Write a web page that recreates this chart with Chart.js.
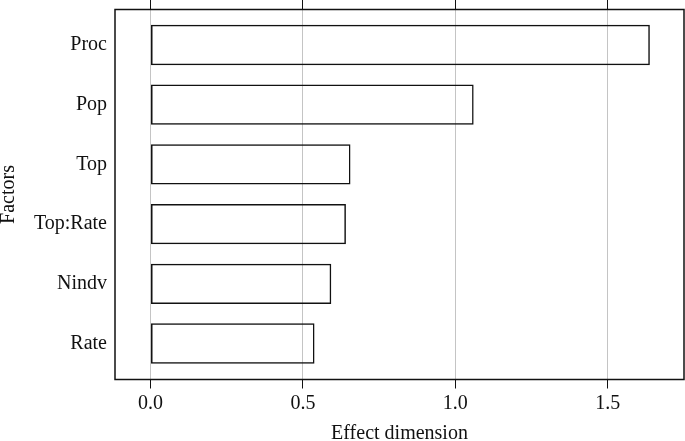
<!DOCTYPE html>
<html>
<head>
<meta charset="utf-8">
<script src="https://cdn.jsdelivr.net/npm/chart.js@4"></script>
<style>
  html, body { margin: 0; padding: 0; background: #ffffff; }
  #wrap { width: 685px; height: 441px; }
</style>
</head>
<body>
<div id="wrap"><canvas id="c" width="685" height="441"></canvas></div>
<script>
// ---- data ----
const factors = ['Proc', 'Pop', 'Top', 'Top:Rate', 'Nindv', 'Rate'];
const effects = [1.638, 1.060, 0.656, 0.641, 0.593, 0.538];
const xTickValues = [0, 0.5, 1.0, 1.5];
const xTickLabels = ['0.0', '0.5', '1.0', '1.5'];
const xTitle = 'Effect dimension';
const yTitle = 'Factors';

// ---- style ----
const INK = '#111111';
const GRID = '#c4c4c4';
Chart.defaults.font.family = "'Liberation Serif', 'Times New Roman', serif";
Chart.defaults.font.size = 20;
Chart.defaults.color = INK;

const X_MIN = -0.1165, X_MAX = 1.750;
const Y_MIN = -0.595, Y_MAX = 5.603;

const framePlugin = {
  id: 'frame',
  afterDraw(chart) {
    const a = chart.chartArea, ctx = chart.ctx;
    ctx.save();
    ctx.strokeStyle = INK;
    ctx.lineWidth = 1.5;
    ctx.strokeRect(a.left, a.top, a.right - a.left, a.bottom - a.top);
    ctx.restore();
  }
};

const setXTicks = s => { s.ticks = xTickValues.map(v => ({ value: v })); };
const noPad = s => { s.paddingTop = 0; s.paddingBottom = 0; s.paddingLeft = 0; s.paddingRight = 0; };

new Chart(document.getElementById('c'), {
  type: 'bar',
  data: {
    datasets: [{
      data: factors.map((f, i) => ({ x: effects[i], y: i })),
      backgroundColor: 'rgba(0,0,0,0)',
      borderColor: INK,
      borderWidth: 1.5,
      borderSkipped: false,
      barPercentage: 0.675,
      categoryPercentage: 1.0
    }]
  },
  options: {
    indexAxis: 'y',
    responsive: false,
    animation: false,
    devicePixelRatio: 1,
    layout: { padding: { top: 0, right: 1, bottom: 0, left: 0 } },
    plugins: { legend: { display: false }, tooltip: { enabled: false } },
    scales: {
      x: {
        type: 'linear',
        position: 'bottom',
        min: X_MIN, max: X_MAX,
        afterBuildTicks: setXTicks,
        afterFit: s => { s.height = 61.5; noPad(s); },
        ticks: {
          padding: 3.5,
          color: INK,
          maxRotation: 0,
          callback: (v) => { const i = xTickValues.indexOf(v); return i >= 0 ? xTickLabels[i] : ''; }
        },
        grid: { color: GRID, lineWidth: 1, tickColor: INK, tickLength: 9, drawTicks: true },
        border: { display: false },
        title: {
          display: true, text: xTitle, color: INK,
          font: { size: 20, lineHeight: 0.75 },
          padding: { top: 0, bottom: 0 }
        }
      },
      x2: {
        type: 'linear',
        axis: 'x',
        position: 'top',
        min: X_MIN, max: X_MAX,
        afterBuildTicks: setXTicks,
        afterFit: s => { s.height = 9.5; noPad(s); },
        ticks: { display: false },
        grid: { drawOnChartArea: false, tickColor: INK, tickLength: 9.5, drawTicks: true },
        border: { display: false }
      },
      y: {
        type: 'linear',
        position: 'left',
        reverse: true,
        offset: false,
        min: Y_MIN, max: Y_MAX,
        afterBuildTicks: s => { s.ticks = factors.map((f, i) => ({ value: i })); },
        afterFit: s => { s.width = 115; noPad(s); },
        ticks: {
          padding: 8,
          color: INK,
          callback: (v) => factors[v] !== undefined ? factors[v] : ''
        },
        grid: { display: false, drawTicks: false, offset: false },
        border: { display: false },
        title: {
          display: true, text: yTitle, color: INK,
          font: { size: 20, lineHeight: 0.75 },
          padding: { top: 1, bottom: 0 }
        }
      }
    }
  },
  plugins: [framePlugin]
});
</script>
</body>
</html>
